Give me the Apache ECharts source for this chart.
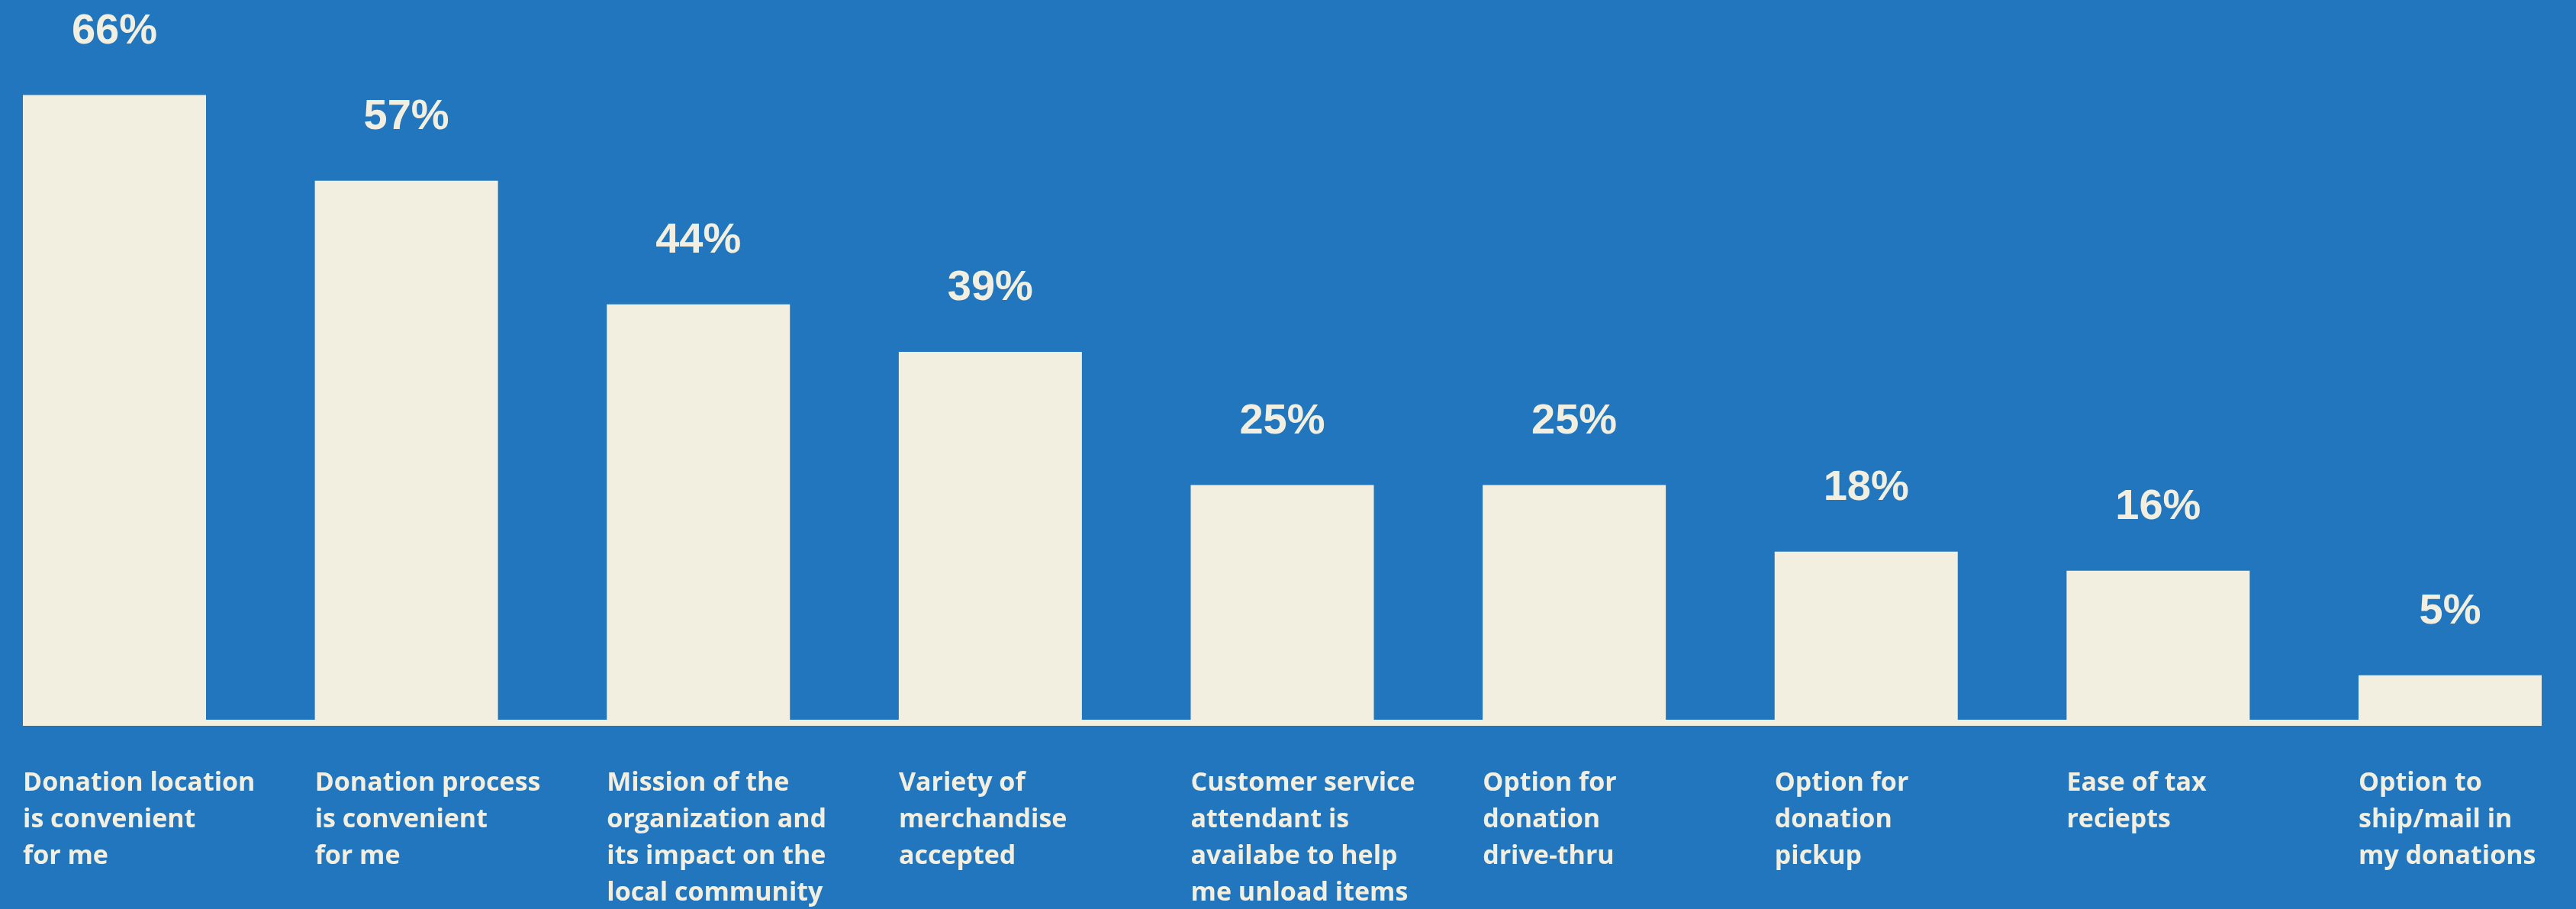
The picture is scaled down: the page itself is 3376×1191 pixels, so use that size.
<!DOCTYPE html>
<html>
<head>
<meta charset="utf-8">
<title>Donation factors</title>
<script src="https://cdn.jsdelivr.net/npm/echarts@6/dist/echarts.min.js"></script>
<style>
  html, body { margin: 0; padding: 0; background: #2176BD; }
  #chart { width: 3376px; height: 1191px; }
</style>
</head>
<body>
<div id="chart"></div>
<script>
// Reasons given for choosing where to donate (share of respondents, %)
const categories = [
  'Donation location\nis convenient\nfor me',
  'Donation process\nis convenient\nfor me',
  'Mission of the\norganization and\nits impact on the\nlocal community',
  'Variety of\nmerchandise\naccepted',
  'Customer service\nattendant is\navailabe to help\nme unload items',
  'Option for\ndonation\ndrive-thru',
  'Option for\ndonation\npickup',
  'Ease of tax\nreciepts',
  'Option to\nship/mail in\nmy donations'
];
const shares = [66, 57, 44, 39, 25, 25, 18, 16, 5];

const BLUE = '#2176BD';
const CREAM = '#F2EFE1';
const BAR_W = 240;

const chart = echarts.init(document.getElementById('chart'), null, { renderer: 'canvas' });

chart.setOption({
  backgroundColor: BLUE,
  animation: false,
  grid: { left: 150, right: 165, top: 0, bottom: 244, containLabel: false },
  xAxis: {
    type: 'category',
    data: categories,
    boundaryGap: false,
    axisLine: { show: false },
    axisTick: { show: false },
    splitLine: { show: false },
    axisLabel: {
      interval: 0,
      margin: 55,
      align: 'center',
      verticalAlign: 'top',
      formatter: (v) => v.split('\n').map(s => '{t|' + s + '}').join('\n'),
      rich: {
        t: {
          width: BAR_W,
          align: 'left',
          color: CREAM,
          fontFamily: 'Open Sans',
          fontWeight: 700,
          fontSize: 34,
          lineHeight: 48
        }
      }
    }
  },
  yAxis: {
    type: 'value',
    min: 0,
    max: 76,
    show: false,
    splitLine: { show: false }
  },
  series: [
    {
      type: 'bar',
      data: shares,
      barWidth: BAR_W,
      clip: false,
      itemStyle: { color: CREAM },
      label: {
        show: true,
        position: 'top',
        distance: 55,
        formatter: '{c}%',
        color: CREAM,
        fontFamily: 'Liberation Sans',
        fontWeight: 'bold',
        fontSize: 56,
        lineHeight: 56
      }
    },
    {
      // baseline under the bars, spanning from the first bar's left edge to the last bar's right edge
      type: 'custom',
      clip: false,
      silent: true,
      data: [[0, 0]],
      renderItem: (params, api) => {
        const first = api.coord([0, 0]);
        const last = api.coord([categories.length - 1, 0]);
        return {
          type: 'rect',
          shape: {
            x: first[0] - BAR_W / 2,
            y: first[1] - 4,
            width: last[0] - first[0] + BAR_W,
            height: 8
          },
          style: { fill: CREAM }
        };
      }
    }
  ]
});
</script>
</body>
</html>
